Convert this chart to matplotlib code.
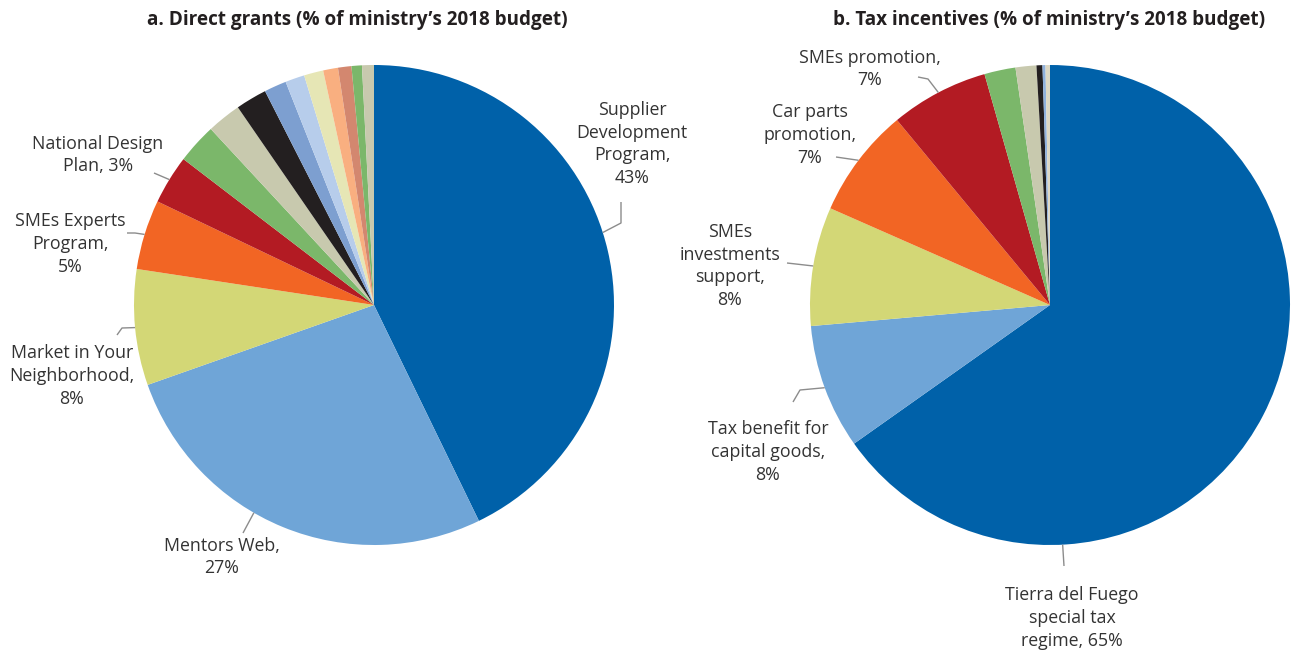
import matplotlib
matplotlib.use("Agg")
import matplotlib.pyplot as plt
import numpy as np

# ---------------- data ----------------
grants_labels = ["Supplier\nDevelopment\nProgram,\n43%", "Mentors Web,\n27%",
                 "Market in Your\nNeighborhood,\n8%", "SMEs Experts\nProgram,\n5%",
                 "National Design\nPlan, 3%", "", "", "", "", "", "", "", "", "", ""]
grants_values = [42.8, 26.8, 7.8, 4.7, 3.3, 2.7, 2.3, 2.1, 1.5, 1.3, 1.3, 1.0, 0.9, 0.7, 0.8]
grants_colors = ["#0061A9", "#6FA5D7", "#D3D776", "#F26524", "#B31B23", "#7BB76A",
                 "#C8C9AE", "#231F20", "#7D9FD0", "#B7CDEB", "#E6E6B5", "#F9AF80",
                 "#D3876F", "#7BB76A", "#C8C9AE"]

tax_labels = ["Tierra del Fuego\nspecial tax\nregime, 65%", "Tax benefit for\ncapital goods,\n8%",
              "SMEs\ninvestments\nsupport,\n8%", "Car parts\npromotion,\n7%",
              "SMEs promotion,\n7%", "", "", "", "", ""]
tax_values = [65.2, 8.4, 8.0, 7.4, 6.6, 2.1, 1.4, 0.4, 0.2, 0.3]
tax_colors = ["#0061A9", "#6FA5D7", "#D3D776", "#F26524", "#B31B23", "#7BB76A",
              "#C8C9AE", "#231F20", "#8FB1DD", "#DDD8C4"]

titles = ["a. Direct grants (% of ministry\u2019s 2018 budget)",
          "b. Tax incentives (% of ministry\u2019s 2018 budget)"]

# ---------------- layout (pixel coordinates, y measured from top) ----------------
W, H = 1293, 651
plt.rcParams['font.family'] = ['Open Sans', 'DejaVu Sans']
TEXT = "#333333"
LEAD = "#8C8C8C"

fig = plt.figure(figsize=(W / 100, H / 100), dpi=100)
ax = fig.add_axes([0, 0, 1, 1])

def Y(y):
    return H - y

pies = [
    dict(values=grants_values, colors=grants_colors, labels=grants_labels,
         center=(374, 305), radius=240, title=titles[0], title_x=357,
         layout={0: ((632, 144), 0.47, [(621, 223), (621, 202)]),
                 1: ((222, 557), 0.58, [(243, 533)]),
                 2: ((72, 376), 0.5, [(122, 328), (117, 335)]),
                 3: ((70, 244), 0.5, [(135, 233), (127, 233)]),
                 4: ((98, 155), 0.5, [(154, 173)])}),
    dict(values=tax_values, colors=tax_colors, labels=tax_labels,
         center=(1050, 305), radius=240, title=titles[1], title_x=1049,
         layout={0: ((1072, 618), 0.754, [(1064, 566)]),
                 1: ((768, 452), 0.5, [(800, 390), (793, 402)]),
                 2: ((730, 266), 0.5, [(787, 263)]),
                 3: ((810, 135), 0.5, [(836, 157)]),
                 4: ((870, 69), 0.5, [(928, 79), (918, 77)])}),
]

for p in pies:
    cx, cy = p["center"]
    r = p["radius"]
    wedges, _ = ax.pie(p["values"], colors=p["colors"], startangle=90, counterclock=False,
                       radius=r, center=(cx, Y(cy)), wedgeprops=dict(linewidth=0))
    for i, ((tx, ty), frac, elbows) in p["layout"].items():
        w = wedges[i]
        ang = np.deg2rad(w.theta2 - frac * (w.theta2 - w.theta1))
        ax_x = cx + r * np.cos(ang)
        ax_y = Y(cy) + r * np.sin(ang)
        xs = [ax_x] + [e[0] for e in elbows]
        ys = [ax_y] + [Y(e[1]) for e in elbows]
        ax.plot(xs, ys, color=LEAD, lw=1.0, solid_capstyle="butt")
        ax.text(tx, Y(ty), p["labels"][i], ha="center", va="center", fontsize=12.8,
                color=TEXT, linespacing=1.34)
    ax.text(p["title_x"], Y(20), p["title"], ha="center", va="center", fontsize=13.6,
            fontweight="bold", color="#231F20")

ax.set_xlim(0, W)
ax.set_ylim(0, H)
ax.set_aspect("equal")
ax.axis("off")

fig.savefig("out.png", dpi=100, facecolor="white")
